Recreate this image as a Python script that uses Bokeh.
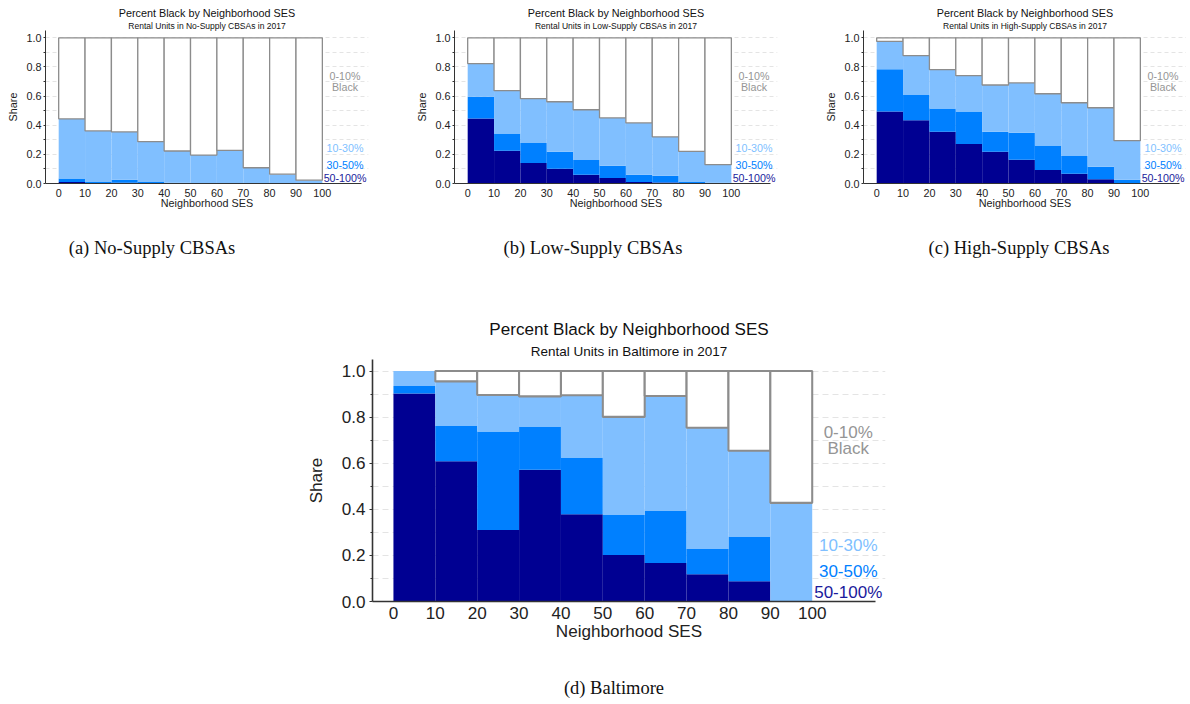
from bokeh.plotting import figure
from bokeh.models import FixedTicker, PrintfTickFormatter, Title, Label, Div, Spacer
from bokeh.layouts import row, column
from bokeh.embed import file_html
from bokeh.resources import INLINE

# ---------------- data ----------------
ses_left = [0, 10, 20, 30, 40, 50, 60, 70, 80, 90]
ses_right = [10, 20, 30, 40, 50, 60, 70, 80, 90, 100]
x_ticks = [0, 10, 20, 30, 40, 50, 60, 70, 80, 90, 100]
y_ticks = [0.0, 0.2, 0.4, 0.6, 0.8, 1.0]
y_minor = [0.1, 0.3, 0.5, 0.7, 0.9]
grid_levels = [0.1, 0.2, 0.3, 0.4, 0.5, 0.6, 0.7, 0.8, 0.9, 1.0]
band_labels = ["0-10%", "Black", "10-30%", "30-50%", "50-100%"]

# cumulative tops of the stacked bands (share of units)
nosupply_top_50_100 = [0.010, 0.004, 0.005, 0.003, 0.002, 0.002, 0.002, 0.002, 0.001, 0.001]
nosupply_top_30_50 = [0.034, 0.011, 0.025, 0.011, 0.005, 0.004, 0.004, 0.003, 0.003, 0.002]
nosupply_top_10_30 = [0.444, 0.361, 0.354, 0.287, 0.223, 0.195, 0.228, 0.108, 0.064, 0.023]

lowsupply_top_50_100 = [0.446, 0.225, 0.140, 0.101, 0.060, 0.037, 0.011, 0.007, 0.002, 0.001]
lowsupply_top_30_50 = [0.595, 0.343, 0.278, 0.218, 0.161, 0.122, 0.060, 0.053, 0.011, 0.005]
lowsupply_top_10_30 = [0.823, 0.637, 0.582, 0.561, 0.506, 0.451, 0.416, 0.320, 0.221, 0.129]

highsupply_top_50_100 = [0.494, 0.434, 0.356, 0.271, 0.218, 0.163, 0.092, 0.067, 0.030, 0.002]
highsupply_top_30_50 = [0.784, 0.607, 0.515, 0.494, 0.356, 0.349, 0.260, 0.189, 0.115, 0.025]
highsupply_top_10_30 = [0.975, 0.878, 0.782, 0.740, 0.676, 0.690, 0.616, 0.554, 0.520, 0.294]

baltimore_top_50_100 = [0.902, 0.608, 0.310, 0.572, 0.379, 0.202, 0.167, 0.118, 0.088, 0.0]
baltimore_top_30_50 = [0.935, 0.762, 0.738, 0.759, 0.625, 0.375, 0.395, 0.228, 0.282, 0.0]
baltimore_top_10_30 = [1.000, 0.955, 0.896, 0.890, 0.895, 0.801, 0.892, 0.754, 0.654, 0.428]

# ---------------- style ----------------
NAVY = "#000092"
MID = "#0080FF"
LIGHT = "#80BFFF"
GRAY = "#8C8C8C"
LABEL_COLORS = ["#959595", "#959595", LIGHT, MID, "#1a1a9c"]
FONT = "Liberation Sans"
SERIF = "Liberation Serif"


def px(v):
    return f"{v:.1f}px"


def make_panel(subtitle, t50, t30, t10, s, width, height, bl, br, bt, bb, st):
    p = figure(width=width, height=height, x_range=(-5, 117.5), y_range=(0, 1.05),
               output_backend="svg", toolbar_location=None, title=None,
               min_border_left=bl, min_border_right=br, min_border_top=bt,
               min_border_bottom=bb)
    p.outline_line_color = None
    p.background_fill_color = "white"
    p.border_fill_color = "white"

    p.quad(left=ses_left, right=ses_right, bottom=0, top=t50,
           fill_color=NAVY, line_color=None)
    p.quad(left=ses_left, right=ses_right, bottom=t50, top=t30,
           fill_color=MID, line_color=None)
    p.quad(left=ses_left, right=ses_right, bottom=t30, top=t10,
           fill_color=LIGHT, line_color=None)
    p.quad(left=ses_left, right=ses_right, bottom=t10, top=1.0,
           fill_color="white", line_color=GRAY, line_width=1.3 * s,
           line_alpha=[0.0 if t >= 1.0 else 1.0 for t in t10])

    # axes
    p.xaxis.ticker = FixedTicker(ticks=x_ticks)
    p.xaxis.bounds = (-5, 115)
    p.yaxis.ticker = FixedTicker(ticks=y_ticks, minor_ticks=y_minor)
    p.yaxis.formatter = PrintfTickFormatter(format="%.1f")
    p.xaxis.axis_label = "Neighborhood SES"
    p.yaxis.axis_label = "Share"
    for ax in (p.xaxis[0], p.yaxis[0]):
        ax.axis_line_color = "#333333"
        ax.axis_line_width = 1.0 * s
        ax.major_tick_line_color = "#333333"
        ax.minor_tick_line_color = "#333333"
        ax.major_tick_in = 0
        ax.minor_tick_in = 0
        ax.major_label_text_font = FONT
        ax.major_label_text_font_size = px(10.8 * s)
        ax.major_label_text_color = "#222222"
        ax.axis_label_text_font = FONT
        ax.axis_label_text_font_size = px(10.8 * s)
        ax.axis_label_text_font_style = "normal"
        ax.axis_label_text_color = "#222222"
    p.xaxis.major_tick_out = 0
    p.xaxis.major_label_standoff = st["xl"]
    p.xaxis.axis_label_standoff = st["xa"]
    p.yaxis.major_tick_out = int(round(2 * s))
    p.yaxis.minor_tick_out = int(round(1.5 * s))
    p.yaxis.major_label_standoff = st["yl"]
    p.yaxis.axis_label_standoff = st["ya"]

    p.xgrid.visible = False
    p.ygrid.ticker = FixedTicker(ticks=grid_levels)
    p.ygrid.grid_line_color = "#e4e4e4"
    p.ygrid.grid_line_dash = "4 3" if s < 1.2 else "6 4"
    p.ygrid.grid_line_width = 1

    # band labels on the right
    lab_y = [0.735, 0.665, 0.245, 0.128, 0.040]
    for txt, yy, col in zip(band_labels, lab_y, LABEL_COLORS):
        p.add_layout(Label(x=108.6, y=yy, text=txt, text_align="center",
                           text_baseline="middle", text_font=FONT,
                           text_font_size=px(10.7 * s), text_color=col))

    # titles (first added sits closest to the frame)
    off = -1.25 * 2.64 * s
    p.add_layout(Title(text=subtitle, align="center", text_font=FONT,
                       text_font_size=px(8.5 * s), text_font_style="normal",
                       text_color="#111111", standoff=st["sub"], offset=off), "above")
    p.add_layout(Title(text="Percent Black by Neighborhood SES", align="center",
                       text_font=FONT, text_font_size=px(10.8 * s),
                       text_font_style="normal", text_color="#111111",
                       standoff=st["tit"], offset=off), "above")
    return p


st_small = dict(xl=5, xa=-3, yl=2, ya=4, sub=0, tit=0)
st_big = dict(xl=5, xa=0, yl=4, ya=13, sub=2, tit=3)

fa = make_panel("Rental Units in No-Supply CBSAs in 2017",
                nosupply_top_50_100, nosupply_top_30_50, nosupply_top_10_30,
                1.0, 409, 213, 45, 41, 30, 30, st_small)
fb = make_panel("Rental Units in Low-Supply CBSAs in 2017",
                lowsupply_top_50_100, lowsupply_top_30_50, lowsupply_top_10_30,
                1.0, 409, 213, 45, 41, 30, 30, st_small)
fc = make_panel("Rental Units in High-Supply CBSAs in 2017",
                highsupply_top_50_100, highsupply_top_30_50, highsupply_top_10_30,
                1.0, 368, 213, 45, 0, 30, 30, st_small)
fd = make_panel("Rental Units in Baltimore in 2017",
                baltimore_top_50_100, baltimore_top_30_50, baltimore_top_10_30,
                1.587, 591, 332, 70, 8, 46, 44, st_big)


def caption(text, width, height, top):
    html = (f'<div style="width:{width}px; font-family:\'{SERIF}\'; font-size:18.5px; '
            f'line-height:18px; color:#111; text-align:center; margin-top:{top}px; '
            f'white-space:nowrap;">{text}</div>')
    return Div(text=html, width=width, height=height, margin=0)


cap_w = 280
cap_h = 100
ca, cb, cc = 152, 593, 1019
cap_row = row(
    Spacer(width=ca - cap_w // 2, height=cap_h, margin=0),
    caption("(a) No-Supply CBSAs", cap_w, cap_h, 26),
    Spacer(width=(cb - cap_w // 2) - (ca + cap_w // 2), height=cap_h, margin=0),
    caption("(b) Low-Supply CBSAs", cap_w, cap_h, 26),
    Spacer(width=(cc - cap_w // 2) - (cb + cap_w // 2), height=cap_h, margin=0),
    caption("(c) High-Supply CBSAs", cap_w, cap_h, 26),
)

cd = 614
bottom_row = row(Spacer(width=302, height=332, margin=0), fd)
cap_d_row = row(Spacer(width=cd - cap_w // 2, height=56, margin=0),
                caption("(d) Baltimore", cap_w, 56, 34))

layout = column(row(fa, fb, fc), cap_row, bottom_row, cap_d_row)

open("out.html", "w").write(file_html(layout, INLINE))
